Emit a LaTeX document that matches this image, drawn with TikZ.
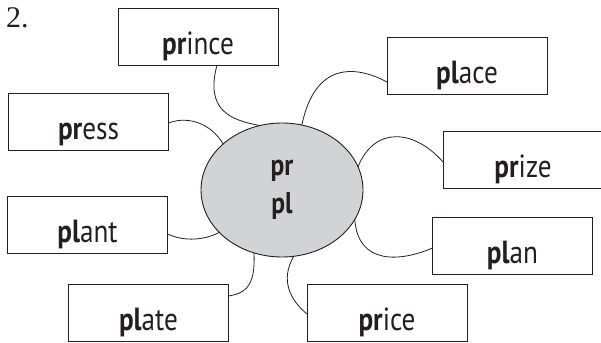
\documentclass[tikz,border=0pt]{standalone}
\usepackage{fontspec}
\setmainfont{Liberation Serif}
\newfontfamily\boxfont[FakeStretch=0.85]{PT Sans}
\usetikzlibrary{shapes.geometric}
\definecolor{ink}{HTML}{231F20}
\definecolor{bubble}{HTML}{D1D3D4}
\begin{document}
\begin{tikzpicture}[x=1pt,y=-1pt,
  wordbox/.style={draw=ink, line width=0.9pt, minimum width=160pt, minimum height=57pt,
    inner sep=0pt, outer sep=0pt, text height=46.5pt, text depth=10.5pt,
    font=\boxfont\fontsize{32}{36}\selectfont, text=ink},
  hub/.style={ellipse, draw=ink, line width=0.9pt, fill=bubble, minimum width=162pt,
    minimum height=134pt, outer sep=0pt, align=center, text=ink,
    font=\boxfont\bfseries\fontsize{30}{38}\selectfont},
  link/.style={draw=ink, line width=0.8pt}]
\useasboundingbox (0,0) rectangle (601,342);
\node[anchor=base west, font=\fontsize{30}{36}\selectfont, text=ink, inner sep=0pt] (num) at (6,28) {2.};
\node[hub] (c) at (282,190) {pr\\pl};
\node[wordbox] (prince) at (198,36.5) {\textbf{pr}ince};
\node[wordbox] (press) at (88.5,121.5) {\textbf{pr}ess};
\node[wordbox] (place) at (467,65.5) {\textbf{pl}ace};
\node[wordbox] (prize) at (523,159.5) {\textbf{pr}ize};
\node[wordbox] (plant) at (87.5,224.5) {\textbf{pl}ant};
\node[wordbox] (plan) at (512.5,245.5) {\textbf{pl}an};
\node[wordbox] (plate) at (148.5,312.5) {\textbf{pl}ate};
\node[wordbox] (price) at (387,312.5) {\textbf{pr}ice};
\path[link] ([xshift=19pt]prince.south) .. controls (205,110) and (230,120) .. (c.109);
\path[link] ([yshift=-1.5pt]press.east) .. controls (190,115) and (212,125) .. (c.142);
\path[link] ([yshift=-16.5pt]place.west) .. controls (355,65) and (315,62) .. (c.73);
\path[link] ([yshift=-2.5pt]prize.west) .. controls (415,130) and (375,125) .. (c.17);
\path[link] (c.-22) .. controls (358,265) and (400,262) .. ([yshift=-2.5pt]plan.west);
\path[link] (c.-80) .. controls (280,280) and (290,300) .. ([yshift=-1.5pt]price.west);
\path[link] (c.246) .. controls (255,280) and (250,293) .. ([yshift=16.5pt]plate.east);
\path[link] ([yshift=-9.5pt]plant.east) .. controls (185,242) and (205,240) .. (c.214);
\end{tikzpicture}
\end{document}
